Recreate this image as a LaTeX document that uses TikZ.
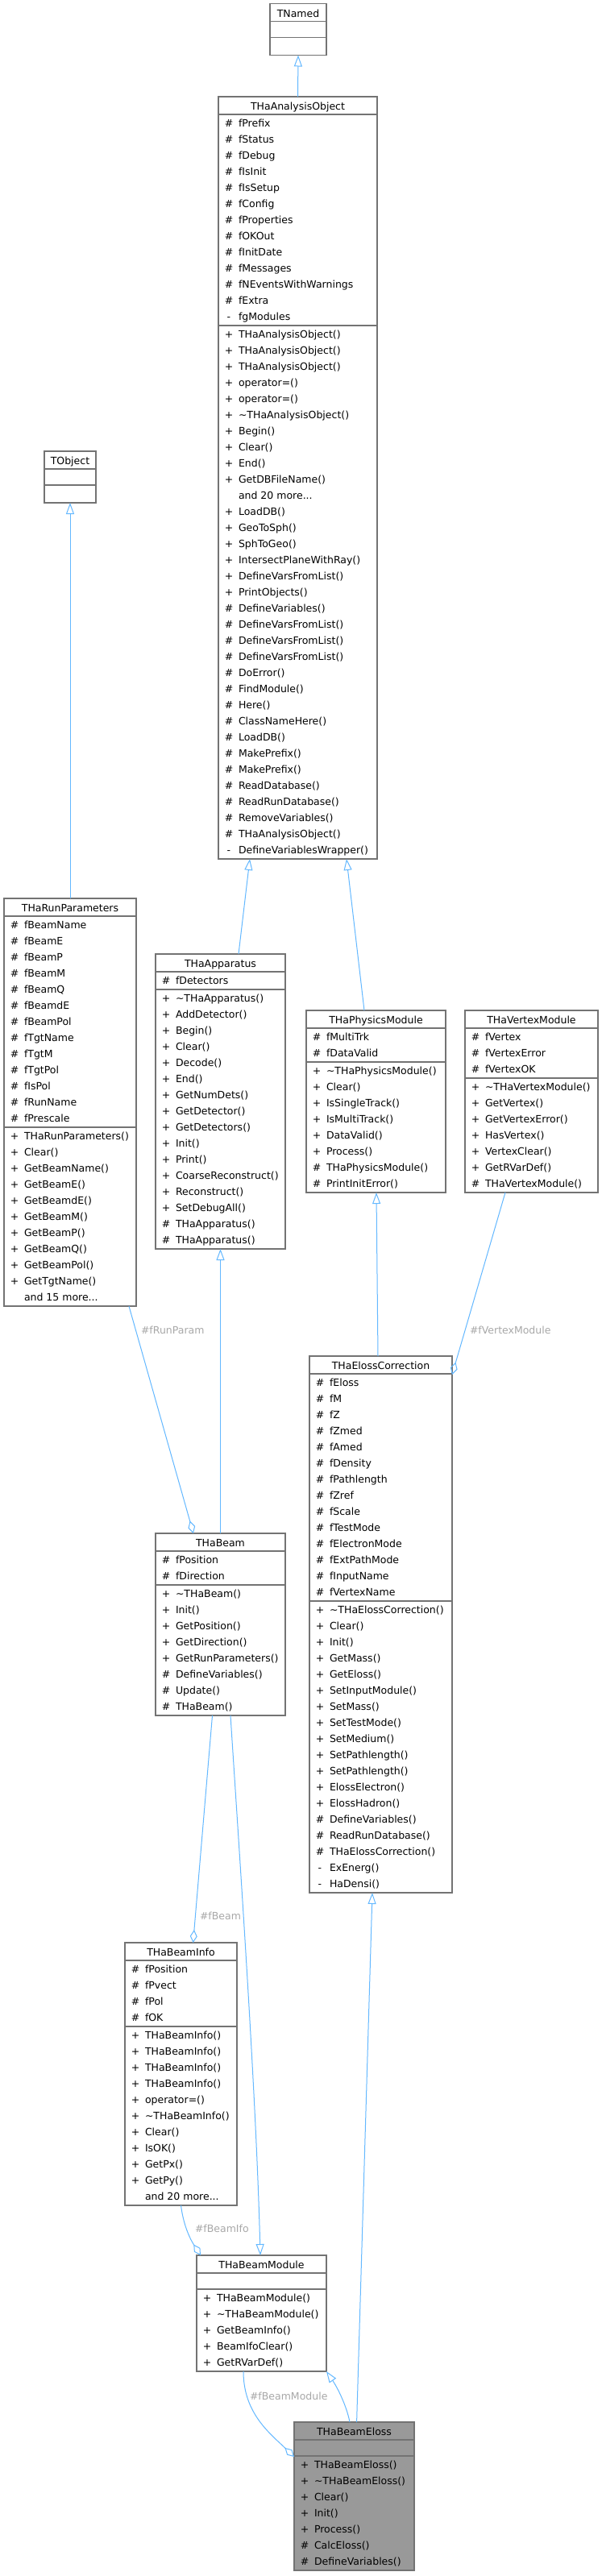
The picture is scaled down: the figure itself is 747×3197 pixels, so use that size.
\documentclass[tikz,border=0pt]{standalone}
\usepackage{fontspec}
\setmainfont{DejaVu Sans}
\usetikzlibrary{arrows.meta}
\definecolor{edgeblue}{HTML}{63B8FF}
\definecolor{boxline}{HTML}{737373}
\definecolor{lblgray}{HTML}{A8A8A8}
\definecolor{hifill}{HTML}{999999}
\newcommand\mkp{+}
\newcommand\mkh{\#}
\newcommand\mkm{-}
\newcommand\mkn{}
\newcommand\threedots{...}
\def\clsfill{white}
\tikzset{
 classbox/.style={draw=boxline, line width=1.2pt, inner sep=0pt, outer sep=0pt, rectangle},
 divider/.style={draw=boxline, line width=1.2pt},
 txt/.style={inner sep=0pt, outer sep=0pt, font=\fontsize{12.5}{15}\selectfont, text=black},
 elabel/.style={inner sep=0pt, outer sep=0pt, font=\fontsize{12.5}{15}\selectfont, text=lblgray},
 inh/.style={draw=edgeblue, line width=1pt, -{Triangle[open, length=14pt, width=10pt]}},
 agg/.style={draw=edgeblue, line width=1pt, -{Diamond[open, length=16pt, width=9pt]}},
}
% #1 name, #2 x, #3 y, #4 width, #5 title, #6 nA, #7 attrs, #8 nM, #9 methods
\newcommand{\umlclass}[9]{%
 \pgfmathsetmacro\hA{ifthenelse(#6==0,20,#6*20+2)}%
 \pgfmathsetmacro\hM{ifthenelse(#8==0,22,#8*20+2)}%
 \pgfmathsetmacro\hT{22+\hA+\hM}%
 \node[classbox, fill=\clsfill, minimum width=#4, minimum height=\hT, anchor=north west] (#1) at (#2,#3) {};
 \draw[divider] ([yshift=-22pt]#1.north west) -- ([yshift=-22pt]#1.north east);
 \draw[divider] ([yshift=-22pt-\hA pt]#1.north west) -- ([yshift=-22pt-\hA pt]#1.north east);
 \node[txt, anchor=base] (#1-t) at ({#2+#4/2},{#3+16.5}) {#5};
 \ifnum#6>0\relax
 \foreach \m/\t [count=\i] in {#7} {
   \node[txt, anchor=base] (#1-am\i) at ({#2+13},{#3+37.5+(\i-1)*20}) {\csname mk\m\endcsname};
   \node[txt, anchor=base west] (#1-a\i) at ({#2+25},{#3+37.5+(\i-1)*20}) {\t};
 }\fi
 \ifnum#8>0\relax
 \foreach \m/\t [count=\i] in {#9} {
   \node[txt, anchor=base] (#1-mm\i) at ({#2+13},{#3+37.5+\hA+(\i-1)*20}) {\csname mk\m\endcsname};
   \node[txt, anchor=base west] (#1-m\i) at ({#2+25},{#3+37.5+\hA+(\i-1)*20}) {\t};
 }\fi
}
\begin{document}
\begin{tikzpicture}[x=1pt, y=-1pt]
\fill[white] (0,0) rectangle (747,3197);
\useasboundingbox (0,0) rectangle (747,3197);

\umlclass{TNamed}{335}{4.5}{70}{TNamed}{0}{}{0}{}
\umlclass{TObject}{55}{560}{64}{TObject}{0}{}{0}{}
\umlclass{THaAO}{271}{120}{197}{THaAnalysisObject}{13}{h/fPrefix, h/fStatus, h/fDebug, h/fIsInit, h/fIsSetup, h/fConfig, h/fProperties, h/fOKOut, h/fInitDate, h/fMessages, h/fNEventsWithWarnings, h/fExtra, m/fgModules}{33}{p/THaAnalysisObject(), p/THaAnalysisObject(), p/THaAnalysisObject(), p/operator=(), p/operator=(), p/\textasciitilde THaAnalysisObject(), p/Begin(), p/Clear(), p/End(), p/GetDBFileName(), n/and 20 more\threedots, p/LoadDB(), p/GeoToSph(), p/SphToGeo(), p/IntersectPlaneWithRay(), p/DefineVarsFromList(), p/PrintObjects(), h/DefineVariables(), h/DefineVarsFromList(), h/DefineVarsFromList(), h/DefineVarsFromList(), h/DoError(), h/FindModule(), h/Here(), h/ClassNameHere(), h/LoadDB(), h/MakePrefix(), h/MakePrefix(), h/ReadDatabase(), h/ReadRunDatabase(), h/RemoveVariables(), h/THaAnalysisObject(), m/DefineVariablesWrapper()}
\umlclass{THaRunParameters}{5}{1115}{164}{THaRunParameters}{13}{h/fBeamName, h/fBeamE, h/fBeamP, h/fBeamM, h/fBeamQ, h/fBeamdE, h/fBeamPol, h/fTgtName, h/fTgtM, h/fTgtPol, h/fIsPol, h/fRunName, h/fPrescale}{11}{p/THaRunParameters(), p/Clear(), p/GetBeamName(), p/GetBeamE(), p/GetBeamdE(), p/GetBeamM(), p/GetBeamP(), p/GetBeamQ(), p/GetBeamPol(), p/GetTgtName(), n/and 15 more\threedots}
\umlclass{THaApparatus}{193}{1184}{161}{THaApparatus}{1}{h/fDetectors}{16}{p/\textasciitilde THaApparatus(), p/AddDetector(), p/Begin(), p/Clear(), p/Decode(), p/End(), p/GetNumDets(), p/GetDetector(), p/GetDetectors(), p/Init(), p/Print(), p/CoarseReconstruct(), p/Reconstruct(), p/SetDebugAll(), h/THaApparatus(), h/THaApparatus()}
\umlclass{THaPhysicsModule}{380}{1254}{173}{THaPhysicsModule}{2}{h/fMultiTrk, h/fDataValid}{8}{p/\textasciitilde THaPhysicsModule(), p/Clear(), p/IsSingleTrack(), p/IsMultiTrack(), p/DataValid(), p/Process(), h/THaPhysicsModule(), h/PrintInitError()}
\umlclass{THaVertexModule}{577}{1254}{165}{THaVertexModule}{3}{h/fVertex, h/fVertexError, h/fVertexOK}{7}{p/\textasciitilde THaVertexModule(), p/GetVertex(), p/GetVertexError(), p/HasVertex(), p/VertexClear(), p/GetRVarDef(), h/THaVertexModule()}
\umlclass{THaElossCorrection}{384}{1683}{177}{THaElossCorrection}{14}{h/fEloss, h/fM, h/fZ, h/fZmed, h/fAmed, h/fDensity, h/fPathlength, h/fZref, h/fScale, h/fTestMode, h/fElectronMode, h/fExtPathMode, h/fInputName, h/fVertexName}{18}{p/\textasciitilde THaElossCorrection(), p/Clear(), p/Init(), p/GetMass(), p/GetEloss(), p/SetInputModule(), p/SetMass(), p/SetTestMode(), p/SetMedium(), p/SetPathlength(), p/SetPathlength(), p/ElossElectron(), p/ElossHadron(), h/DefineVariables(), h/ReadRunDatabase(), h/THaElossCorrection(), m/ExEnerg(), m/HaDensi()}
\umlclass{THaBeam}{193}{1903}{161}{THaBeam}{2}{h/fPosition, h/fDirection}{8}{p/\textasciitilde THaBeam(), p/Init(), p/GetPosition(), p/GetDirection(), p/GetRunParameters(), h/DefineVariables(), h/Update(), h/THaBeam()}
\umlclass{THaBeamInfo}{155}{2411}{139}{THaBeamInfo}{4}{h/fPosition, h/fPvect, h/fPol, h/fOK}{11}{p/THaBeamInfo(), p/THaBeamInfo(), p/THaBeamInfo(), p/THaBeamInfo(), p/operator=(), p/\textasciitilde THaBeamInfo(), p/Clear(), p/IsOK(), p/GetPx(), p/GetPy(), n/and 20 more\threedots}
\umlclass{THaBeamModule}{244}{2799}{161}{THaBeamModule}{0}{}{5}{p/THaBeamModule(), p/\textasciitilde THaBeamModule(), p/GetBeamInfo(), p/BeamIfoClear(), p/GetRVarDef()}
\def\clsfill{hifill}
\umlclass{THaBeamEloss}{365}{3006}{149}{THaBeamEloss}{0}{}{7}{p/THaBeamEloss(), p/\textasciitilde THaBeamEloss(), p/Clear(), p/Init(), p/Process(), h/CalcEloss(), h/DefineVariables()}

% inheritance (tip at base class)
\draw[inh] (THaAO.north) -- (TNamed.south);
\draw[inh] ([xshift=103pt]THaApparatus.north west) -- ([xshift=39pt]THaAO.south west);
\draw[inh] ([xshift=72pt]THaPhysicsModule.north west) -- ([xshift=159pt]THaAO.south west);
\draw[inh] (THaRunParameters.north) -- (TObject.south);
\draw[inh] (THaBeam.north) -- (THaApparatus.south);
\draw[inh] ([xshift=85pt]THaElossCorrection.north west) -- ([xshift=87pt]THaPhysicsModule.south west);
\draw[inh] ([xshift=93pt]THaBeam.south west) .. controls (297,2300) and (318,2600) .. ([xshift=79pt]THaBeamModule.north west);
\draw[inh] ([xshift=77.6pt]THaBeamEloss.north west) -- ([xshift=78pt]THaElossCorrection.south west);
\draw[inh] ([xshift=69pt]THaBeamEloss.north west) .. controls (430,2985) and (418,2962) .. (THaBeamModule.south east);

% aggregation (diamond at container)
\draw[agg] ([xshift=50pt]THaVertexModule.south west) -- ([yshift=-23pt]THaElossCorrection.north east);
\draw[agg] ([xshift=155pt]THaRunParameters.south west) -- ([xshift=47pt]THaBeam.north west);
\draw[agg] ([xshift=70.5pt]THaBeam.south west) -- ([xshift=84.6pt]THaBeamInfo.north west);
\draw[agg] (THaBeamInfo.south) .. controls (228,2765) and (238,2782) .. ([xshift=5pt]THaBeamModule.north west);
\draw[agg] ([xshift=58pt]THaBeamModule.south west) .. controls (302,2995) and (335,3020) .. ([yshift=-43pt]THaBeamEloss.north west);

% edge labels
\node[elabel, anchor=base west] (lRunParam) at (175,1655.5) {\#fRunParam};
\node[elabel, anchor=base west] (lVertexModule) at (583,1655.5) {\#fVertexModule};
\node[elabel, anchor=base west] (lBeam) at (248,2382.5) {\#fBeam};
\node[elabel, anchor=base west] (lBeamIfo) at (242,2770.5) {\#fBeamIfo};
\node[elabel, anchor=base west] (lBeamModule) at (310,2978.5) {\#fBeamModule};
\end{tikzpicture}
\end{document}
